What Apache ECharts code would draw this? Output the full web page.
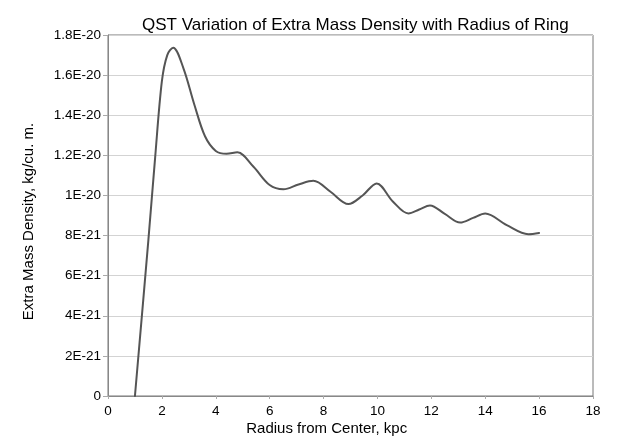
<!DOCTYPE html>
<html>
<head>
<meta charset="utf-8">
<script src="https://cdn.jsdelivr.net/npm/echarts@6/dist/echarts.min.js"></script>
<style>html,body{margin:0;padding:0;background:#fff}#c{width:624px;height:444px}</style>
</head>
<body>
<div id="c"></div>
<script>
// Radius from center (kpc)
var radiusKpc = [1.0, 1.5, 1.75, 2.0, 2.2, 2.42, 2.8, 3.2, 3.6, 4.0, 4.4, 4.8, 5.4, 6.0, 6.51, 7.07, 7.62, 8.27, 8.92, 9.45, 9.97, 10.57, 11.15, 11.55, 11.95, 12.5, 13.07, 13.55, 14.0, 14.8, 15.6, 16.0];
// Extra mass density in units of 1E-21 kg/cu. m.
var densityE21 = [0, 7.8, 11.9, 15.7, 17.0, 17.37, 16.34, 14.55, 12.95, 12.22, 12.08, 12.15, 11.43, 10.52, 10.31, 10.55, 10.73, 10.17, 9.57, 10.0, 10.6, 9.7, 9.10, 9.3, 9.5, 9.08, 8.65, 8.88, 9.10, 8.52, 8.07, 8.13];
var yTickLabels = ['0', '2E-21', '4E-21', '6E-21', '8E-21', '1E-20', '1.2E-20', '1.4E-20', '1.6E-20', '1.8E-20'];
var titleText = 'QST Variation of Extra Mass Density with Radius of Ring';
var xAxisTitle = 'Radius from Center, kpc';
var yAxisTitle = 'Extra Mass Density, kg/cu. m.';

var pts = radiusKpc.map(function (x, i) { return [x, densityE21[i]]; });
var font = '"Liberation Sans", Arial, sans-serif';
var chart = echarts.init(document.getElementById('c'), null, {renderer: 'canvas'});
chart.setOption({
  animation: false,
  backgroundColor: '#fff',
  title: {
    text: titleText, left: 142, top: 17, padding: 0,
    textStyle: {fontFamily: font, fontSize: 17, fontWeight: 'normal', color: '#000'}
  },
  grid: {left: 108, right: 31, top: 35, bottom: 48, show: true, borderColor: '#777', borderWidth: 1, backgroundColor: 'transparent'},
  xAxis: {
    type: 'value', min: 0, max: 18, interval: 2,
    axisLine: {lineStyle: {color: '#888', width: 1}},
    axisTick: {show: true, length: 3, lineStyle: {color: '#aaa'}},
    axisLabel: {fontFamily: font, fontSize: 13.5, color: '#000', margin: 8},
    splitLine: {show: false}
  },
  yAxis: {
    type: 'value', min: 0, max: 18, interval: 2,
    axisLine: {show: true, lineStyle: {color: '#888', width: 1}},
    axisTick: {show: true, length: 5, lineStyle: {color: '#aaa'}},
    axisLabel: {fontFamily: font, fontSize: 13.5, color: '#000', margin: 7,
      formatter: function (v) { return yTickLabels[Math.round(v / 2)]; }},
    splitLine: {show: true, lineStyle: {color: '#d3d3d3', width: 1}}
  },
  graphic: [
    {type: 'text', x: 326.7, y: 429, style: {text: xAxisTitle, font: '15px ' + font, fill: '#000', textAlign: 'center', textVerticalAlign: 'middle'}},
    {type: 'text', x: 28.5, y: 221.5, rotation: Math.PI / 2, style: {text: yAxisTitle, font: '15px ' + font, fill: '#000', textAlign: 'center', textVerticalAlign: 'middle'}}
  ],
  series: [{
    type: 'line', data: pts, smooth: 0.34, symbol: 'none',
    lineStyle: {color: '#555', width: 2, cap: 'round', join: 'round'}
  }]
});
</script>
</body>
</html>
